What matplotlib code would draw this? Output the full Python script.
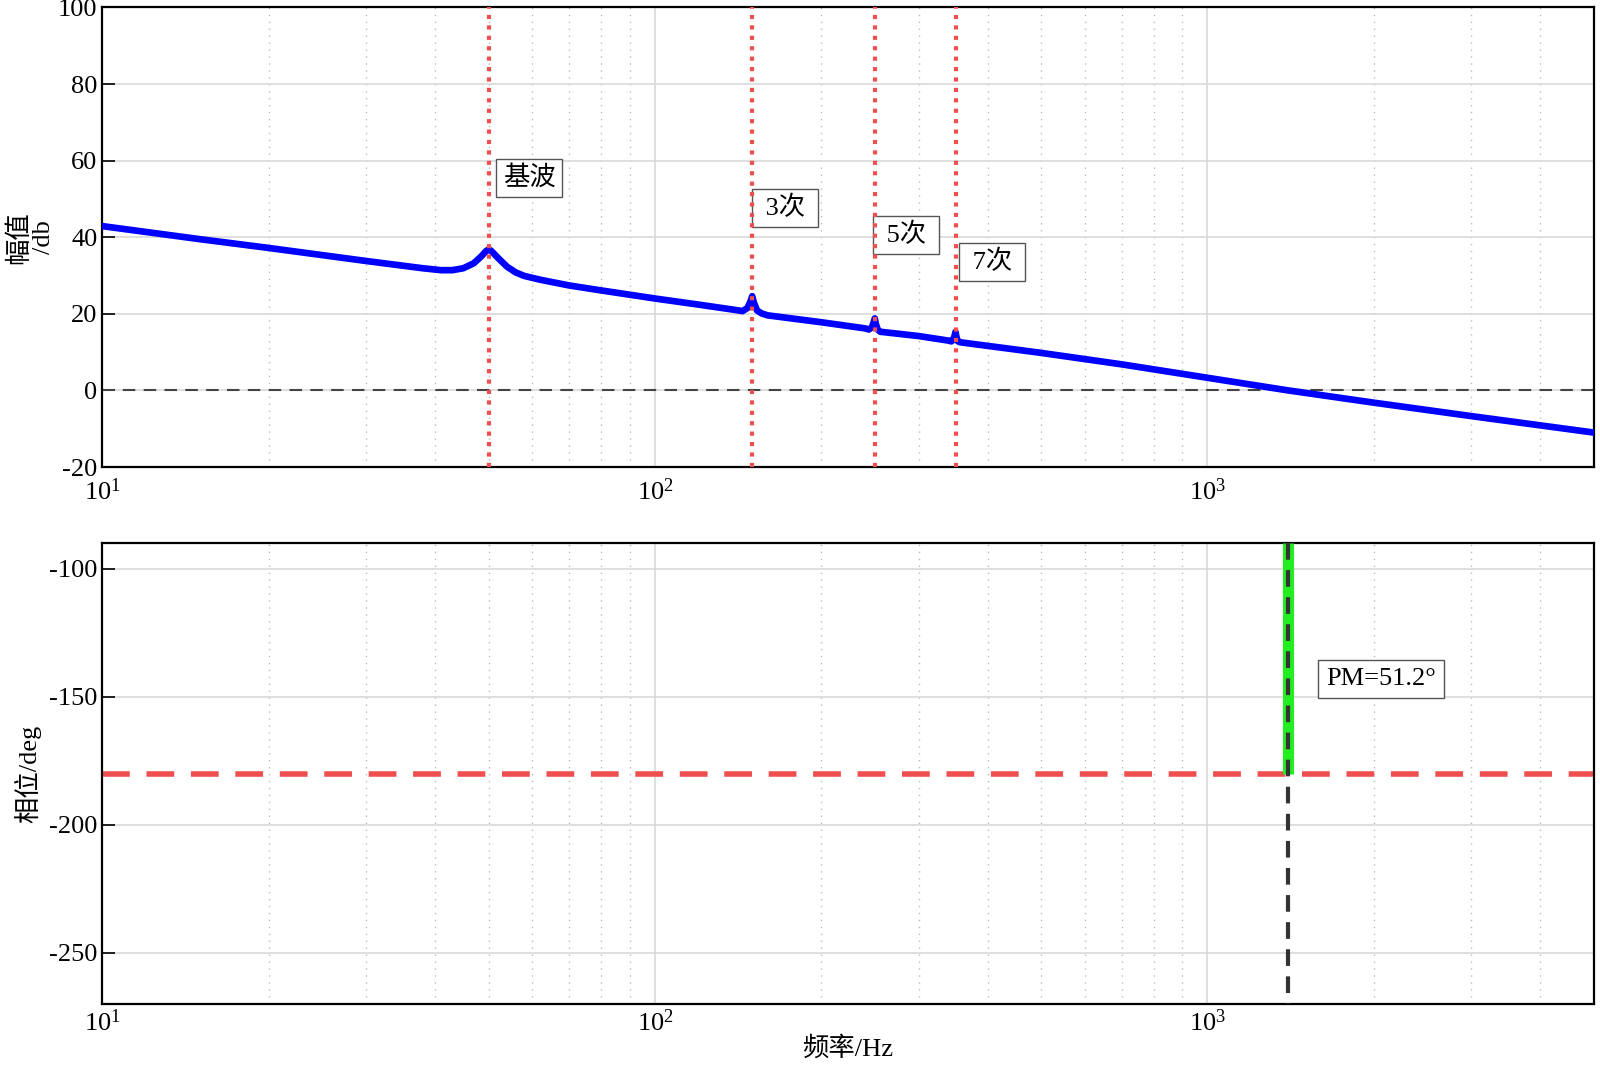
import numpy as np
import matplotlib.pyplot as plt

plt.rcParams['font.family'] = ['Liberation Serif', 'Noto Sans CJK SC']
plt.rcParams['mathtext.fontset'] = 'stix'
plt.rcParams['axes.unicode_minus'] = False

# magnitude curve
freq = [10, 15, 20, 30, 38, 41, 43, 45, 47, 48.5, 49.5, 50, 50.5, 52, 54, 56,
        58, 62, 70, 80, 100, 120, 140, 144, 147, 149, 150, 151, 153, 156, 160,
        200, 240, 244, 247, 249, 250, 251, 253, 256, 260, 300, 340, 344,
        347, 349, 350, 351, 353, 356, 360, 500, 700, 1000, 1400, 2000,
        3000, 5000]
mag = [42.9, 39.5, 37.2, 33.8, 31.9, 31.4, 31.4, 31.9, 33.2, 35.0, 36.4, 36.8,
       36.5, 34.6, 32.3, 30.8, 29.9, 28.9, 27.4, 26.1, 24.0, 22.4, 21.0, 20.7,
       21.5, 23.3, 24.6, 23.0, 20.9, 20.1, 19.6, 17.8, 16.2, 15.9, 16.5, 17.9,
       18.8, 17.5, 15.9, 15.3, 15.2, 14.2, 13.0, 12.8, 13.3, 14.5, 15.3, 14.3,
       12.9, 12.6, 12.5, 9.8, 6.8, 3.3, 0.0, -3.2, -6.7, -11.0]

harm_freq = [50, 150, 250, 350]
harm_labels = ['基波', '3次', '5次', '7次']
label_x = [53, 154, 255, 365]
label_y = [55.5, 47.6, 40.6, 33.6]

fc = 1400        # crossover frequency
pm = 51.2
pm_text_pos = (2060, -143)

red = '#f04f4f'

fig = plt.figure(figsize=(16, 10.65), dpi=100)
ax1 = fig.add_axes([0.064, 0.5615, 0.932, 0.4315])
ax2 = fig.add_axes([0.064, 0.0573, 0.932, 0.4327])

for ax in (ax1, ax2):
    ax.set_xscale('log')
    ax.set_xlim(10, 5000)
    ax.grid(True, which='major', color='#d9d9d9', lw=1.2, ls='-')
    ax.grid(True, which='minor', axis='x', color='#bbbbbb', lw=1, ls=(0, (1, 4)))
    ax.tick_params(direction='in', labelsize=19, length=9, width=1.2, colors='black')
    ax.tick_params(which='minor', direction='in', length=0)
    ax.tick_params(axis='x', length=0, pad=4)
    for s in ax.spines.values():
        s.set_linewidth(1.6)
    ax.set_axisbelow(True)
ax1.tick_params(axis='x', pad=8)

# top: magnitude
ax1.plot(freq, mag, color='#0000ff', lw=4.8, zorder=3, solid_joinstyle='round')
ax1.axhline(0, color='#444444', lw=1.5, ls=(0, (6, 4)), zorder=2)
for f in harm_freq:
    ax1.axvline(f, color=red, lw=3, ls=(0, (1, 1.5)), zorder=4)
for t, x, y in zip(harm_labels, label_x, label_y):
    ax1.text(x, y, ' ' + t + ' ' if t[0].isdigit() else t, fontsize=19,
             va='center', ha='left',
             bbox=dict(boxstyle='square,pad=0.25', fc='white', ec='#555555', lw=1))
ax1.set_ylim(-20, 100)
ax1.set_yticks([-20, 0, 20, 40, 60, 80, 100])
ax1.set_ylabel('幅值\n/db', fontsize=19, labelpad=2, linespacing=1.1)

# bottom: phase
ax2.axhline(-180, color=red, lw=4, ls=(0, (5, 3)), zorder=2)
ax2.plot([fc, fc], [-90, -180], color='#22ee22', lw=8, solid_capstyle='butt', zorder=3)
ax2.plot([fc, fc], [-90, -270], color='#333333', lw=3, ls=(0, (4, 2.5)), zorder=4)
ax2.text(pm_text_pos[0], pm_text_pos[1], 'PM=%.1f°' % pm, fontsize=19,
         va='center', ha='center',
         bbox=dict(boxstyle='square,pad=0.3', fc='white', ec='#555555', lw=1))
ax2.set_ylim(-270, -90)
ax2.set_yticks([-250, -200, -150, -100])
ax2.set_ylabel('相位/deg', fontsize=19, labelpad=6)
ax2.set_xlabel('频率/Hz', fontsize=19, labelpad=0)

fig.savefig('out.png', dpi=100)
